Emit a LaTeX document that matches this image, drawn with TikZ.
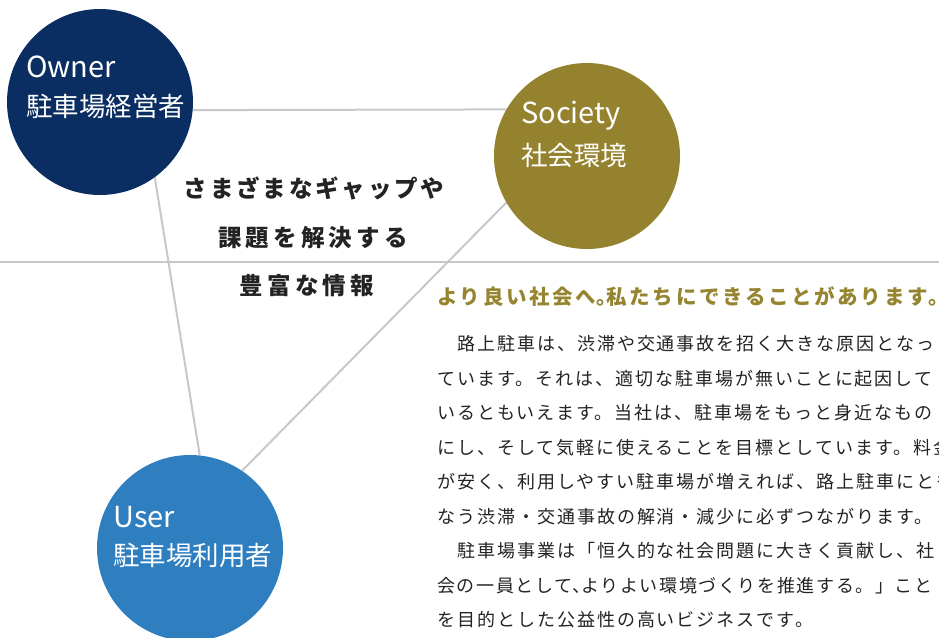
\documentclass[tikz,border=0pt]{standalone}
\usepackage{fontspec}
\newfontfamily\jp{Noto Sans CJK JP}
\newfontfamily\jpbody{Noto Sans CJK JP}[LetterSpace=11]
\newfontfamily\jpbodytight{Noto Sans CJK JP}[LetterSpace=9]
\newfontfamily\jphead{Noto Sans CJK JP}[LetterSpace=13]
\newfontfamily\jpmid{Noto Sans CJK JP}[LetterSpace=18]
\newfontfamily\jpmidtight{Noto Sans CJK JP}[LetterSpace=12]
\definecolor{ownerblue}{RGB}{10,46,97}
\definecolor{societyolive}{RGB}{149,130,46}
\definecolor{userblue}{RGB}{46,126,192}
\definecolor{linegray}{RGB}{200,200,200}
\definecolor{headolive}{RGB}{150,133,48}
\definecolor{textdark}{RGB}{35,35,35}
\tikzset{
  bubble/.style={circle, minimum size=186pt, inner sep=0pt, draw=none},
  conn/.style={draw=linegray, line width=2pt},
  latin/.style={anchor=base west, inner sep=0pt, text=white, font=\jp\fontsize{29}{32}\selectfont},
  jplabel/.style={anchor=base west, inner sep=0pt, text=white, font=\jp\fontsize{26.5}{30}\selectfont},
  midtext/.style={anchor=base, inner sep=0pt, text=textdark, font=\jpmid\bfseries\fontsize{23.5}{27}\selectfont},
  midtight/.style={midtext, font=\jpmidtight\bfseries\fontsize{23.5}{27}\selectfont},
  headtext/.style={anchor=base west, inner sep=0pt, text=headolive, font=\jphead\bfseries\fontsize{20.5}{23}\selectfont},
  bodytext/.style={anchor=base west, inner sep=0pt, text=textdark, font=\jpbody\fontsize{18}{21}\selectfont},
  bodytight/.style={bodytext, font=\jpbodytight\fontsize{18}{21}\selectfont},
}
\begin{document}
\begin{tikzpicture}[x=1pt, y=-1pt]
\useasboundingbox (0,0) rectangle (939,637);
% circles (nodes)
\node[bubble] (owner) at (100,102) {};
\node[bubble] (society) at (587,156) {};
\node[bubble] (user) at (190,548) {};
% connectors
\coordinate (hl) at (0,262);
\coordinate (hr) at (939,262);
\draw[conn] (hl) -- (hr);
\draw[conn] (owner.-5) -- (society.150.4);
\draw[conn] (owner.-54) -- (user.84);
\draw[conn] (society.210) -- (user.56);
% fill circles on top
\fill[ownerblue] (owner.center) circle (93pt);
\fill[societyolive] (society.center) circle (93pt);
\fill[userblue] (user.center) circle (93pt);
% circle labels
\node[latin] (ownerL) at (26,77) {Owner};
\node[jplabel] (ownerJ) at (26,116) {駐車場経営者};
\node[latin] (societyL) at (521,123) {Society};
\node[jplabel] (societyJ) at (521,165) {社会環境};
\node[latin] (userL) at (113,527) {User};
\node[jplabel] (userJ) at (113,565) {駐車場利用者};
% middle text
\node[midtight] (m1) at (314,197) {さまざまなギャップや};
\node[midtext] (m2) at (313,246) {課題を解決する};
\node[midtext] (m3) at (307,294) {豊富な情報};
% header
\node[headtext] (head) at (437,304) {より良い社会へ{\addfontfeature{RawFeature=+halt}。}私たちにできることがあります。};
% body
\node[bodytext] (b1) at (437,350.5) {　路上駐車は、渋滞や交通事故を招く大きな原因となっ};
\node[bodytext] (b2) at (437,385) {ています。それは、適切な駐車場が無いことに起因して};
\node[bodytext] (b3) at (437,419.5) {いるともいえます。当社は、駐車場をもっと身近なもの};
\node[bodytext] (b4) at (437,454) {にし、そして気軽に使えることを目標としています。料金};
\node[bodytext] (b5) at (437,488.5) {が安く、利用しやすい駐車場が増えれば、路上駐車にとも};
\node[bodytext] (b6) at (437,523) {なう渋滞・交通事故の解消・減少に必ずつながります。};
\node[bodytext] (b7) at (437,557.5) {　駐車場事業は「恒久的な社会問題に大きく貢献し、社};
\node[bodytight] (b8) at (437,592) {会の一員として{\addfontfeature{RawFeature=+halt}、}よりよい環境づくりを推進する。」こと};
\node[bodytext] (b9) at (437,626.5) {を目的とした公益性の高いビジネスです。};
\end{tikzpicture}
\end{document}
